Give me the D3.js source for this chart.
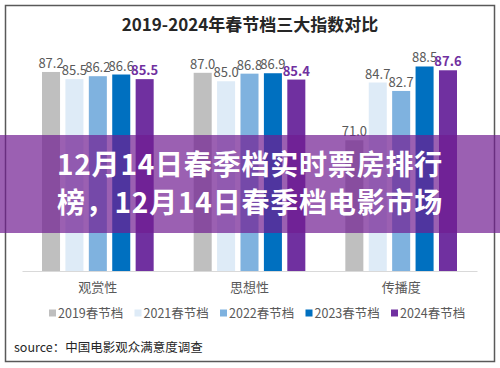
<!DOCTYPE html>
<html><head><meta charset="utf-8">
<script src="https://cdn.jsdelivr.net/npm/d3@7"></script>
<style>
html,body{margin:0;padding:0;background:#fff;}
svg{display:block;font-family:"Noto Sans CJK SC","Noto Sans",sans-serif;}
</style></head>
<body>
<script>
const categories = ["观赏性", "思想性", "传播度"];
const seriesNames = ["2019春节档", "2021春节档", "2022春节档", "2023春节档", "2024春节档"];
const v2019 = [87.2, 87.0, 71.0];
const v2021 = [85.5, 85.0, 84.7];
const v2022 = [86.2, 86.8, 82.7];
const v2023 = [86.6, 86.9, 88.5];
const v2024 = [85.5, 85.4, 87.6];
const seriesValues = [v2019, v2021, v2022, v2023, v2024];
const colors = ["#bfbfbf", "#deebf7", "#7fb2df", "#0070c0", "#7030a0"];
const titleText = "2019-2024年春节档三大指数对比";
const sourceText = "source：中国电影观众满意度调查";
const bannerLines = ["12月14日春季档实时票房排行", "榜，12月14日春季档电影市场"];

const W = 500, H = 368;
const svg = d3.select("body").append("svg").attr("width", W).attr("height", H);
svg.append("rect").attr("width", W).attr("height", H).attr("fill", "#fff");
svg.append("rect").attr("x", 5.5).attr("y", 5.5).attr("width", 489).attr("height", 356)
  .attr("fill", "#fff").attr("stroke", "#595959").attr("stroke-width", 1.5);

svg.append("text").attr("x", 250).attr("y", 31).attr("text-anchor", "middle")
  .attr("font-size", 17).attr("font-weight", "bold").attr("fill", "#262626").text(titleText);

const x0 = d3.scaleBand().domain(categories).range([22, 477]).paddingInner(0).paddingOuter(0);
const x1 = d3.scaleBand().domain(seriesNames).range([20, x0.bandwidth() - 20]).paddingInner(0.23);
const y = d3.scaleLinear().domain([40, 100]).range([271, 18]);

const groups = svg.append("g").selectAll("g").data(categories).join("g")
  .attr("transform", d => `translate(${x0(d)},0)`);

const cells = groups.selectAll("g.cell").data((c, ci) => seriesNames.map((s, si) => ({s, si, v: seriesValues[si][ci]})))
  .join("g").attr("class", "cell");
cells.append("rect")
  .attr("x", d => x1(d.s)).attr("width", x1.bandwidth())
  .attr("y", d => y(d.v)).attr("height", d => y(40) - y(d.v))
  .attr("fill", d => colors[d.si]);
cells.append("text")
  .attr("x", d => x1(d.s) + x1.bandwidth() / 2).attr("y", d => y(d.v) - 4)
  .attr("text-anchor", "middle").attr("font-size", 13)
  .attr("font-weight", d => d.si === 4 ? "bold" : "normal")
  .attr("fill", d => d.si === 4 ? "#7030a0" : "#595959")
  .text(d => d3.format(".1f")(d.v));

// axis
const xAxis = svg.append("g").attr("transform", `translate(0,${y(40)})`)
  .call(d3.axisBottom(x0).tickSize(0).tickPadding(12));
xAxis.select(".domain").attr("stroke", "#d9d9d9").attr("stroke-width", 1);
xAxis.selectAll("text").attr("font-size", 13).attr("fill", "#595959")
  .attr("font-family", '"Noto Sans CJK SC",sans-serif');

// legend
const lx = d3.scalePoint().domain(seriesNames).range([49, 391]);
const leg = svg.append("g").selectAll("g").data(seriesNames).join("g")
  .attr("transform", d => `translate(${lx(d)},313)`);
leg.append("rect").attr("x", 0).attr("y", -3.5).attr("width", 7).attr("height", 7)
  .attr("fill", (d, i) => colors[i]);
leg.append("text").attr("x", 9).attr("y", 4.5).attr("font-size", 12.5).attr("fill", "#595959").text(d => d);

svg.append("text").attr("x", 14).attr("y", 352).attr("font-size", 12.5).attr("fill", "#262626").text(sourceText);

// overlay banner
svg.append("rect").attr("x", 0).attr("y", 135).attr("width", W).attr("height", 98)
  .attr("fill", "rgb(112,29,145)").attr("fill-opacity", 0.7);
svg.append("g").selectAll("text").data(bannerLines).join("text")
  .attr("x", 250).attr("y", (d, i) => 175 + i * 38)
  .attr("text-anchor", "middle").attr("font-size", 28).attr("font-weight", "bold")
  .attr("letter-spacing", 0.8)
  .attr("fill", "#fff").text(d => d);
</script>
</body></html>
